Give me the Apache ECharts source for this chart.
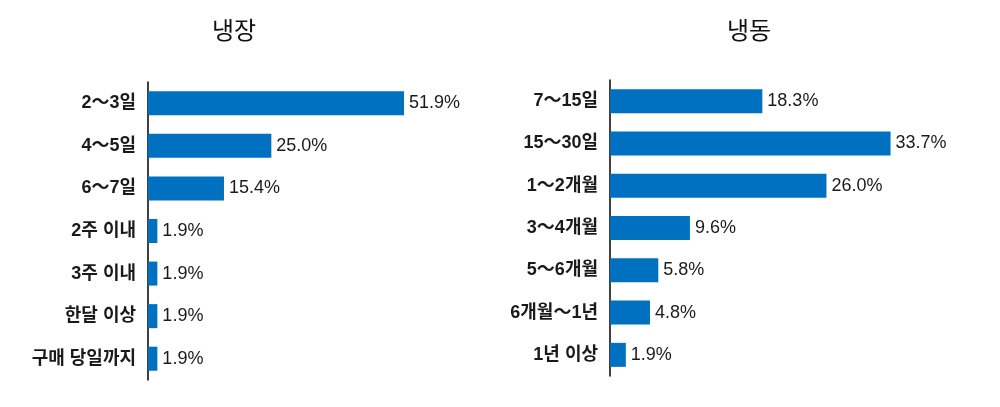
<!DOCTYPE html>
<html>
<head>
<meta charset="utf-8">
<script src="https://cdn.jsdelivr.net/npm/echarts@6/dist/echarts.min.js"></script>
<style>
html,body{margin:0;padding:0;background:#fff;}
#chart{width:1000px;height:407px;}
</style>
</head>
<body>
<div id="chart"></div>
<script>
var titleLeft = '냉장';
var titleRight = '냉동';
var catsLeft = ['2～3일', '4～5일', '6～7일', '2주 이내', '3주 이내', '한달 이상', '구매 당일까지'];
var valsLeft = [51.9, 25.0, 15.4, 1.9, 1.9, 1.9, 1.9];
var catsRight = ['7～15일', '15～30일', '1～2개월', '3～4개월', '5～6개월', '6개월～1년', '1년 이상'];
var valsRight = [18.3, 33.7, 26.0, 9.6, 5.8, 4.8, 1.9];

var FONT = '"Liberation Sans", Arial, "Noto Sans CJK KR", sans-serif';
var BLUE = '#0070C0';
var TXT = '#1a1a1a';

var chart = echarts.init(document.getElementById('chart'), null, {renderer: 'canvas'});

function yAx(idx, cats) {
  return {
    type: 'category', gridIndex: idx, data: cats, inverse: true,
    axisLine: {show: true, lineStyle: {color: '#000', width: 1.5}},
    axisTick: {show: false},
    axisLabel: {margin: 12, fontSize: 18, fontWeight: 'bold', color: TXT, fontFamily: FONT}
  };
}
function xAx(idx, max) {
  return {
    type: 'value', gridIndex: idx, min: 0, max: max, show: false,
    splitLine: {show: false}
  };
}
function ser(idx, vals) {
  return {
    type: 'bar', xAxisIndex: idx, yAxisIndex: idx, data: vals,
    barWidth: 24,
    itemStyle: {color: BLUE},
    label: {
      show: true, position: 'right', distance: 5,
      fontSize: 18, color: TXT, fontFamily: FONT,
      formatter: function (p) { return p.value.toFixed(1) + '%'; }
    },
    silent: true
  };
}
function ttl(text, x) {
  return {
    type: 'text', x: x, y: 32, silent: true,
    style: {text: text, fill: '#111', font: 'normal 24px ' + FONT,
            textAlign: 'center', textVerticalAlign: 'middle'}
  };
}

chart.setOption({
  animation: false,
  textStyle: {fontFamily: FONT},
  graphic: {elements: [ttl(titleLeft, 234), ttl(titleRight, 749)]},
  grid: [
    {left: 148, top: 82, width: 296, height: 298},
    {left: 610, top: 80, width: 333, height: 296}
  ],
  xAxis: [xAx(0, 60), xAx(1, 40)],
  yAxis: [yAx(0, catsLeft), yAx(1, catsRight)],
  series: [ser(0, valsLeft), ser(1, valsRight)]
});
</script>
</body>
</html>
